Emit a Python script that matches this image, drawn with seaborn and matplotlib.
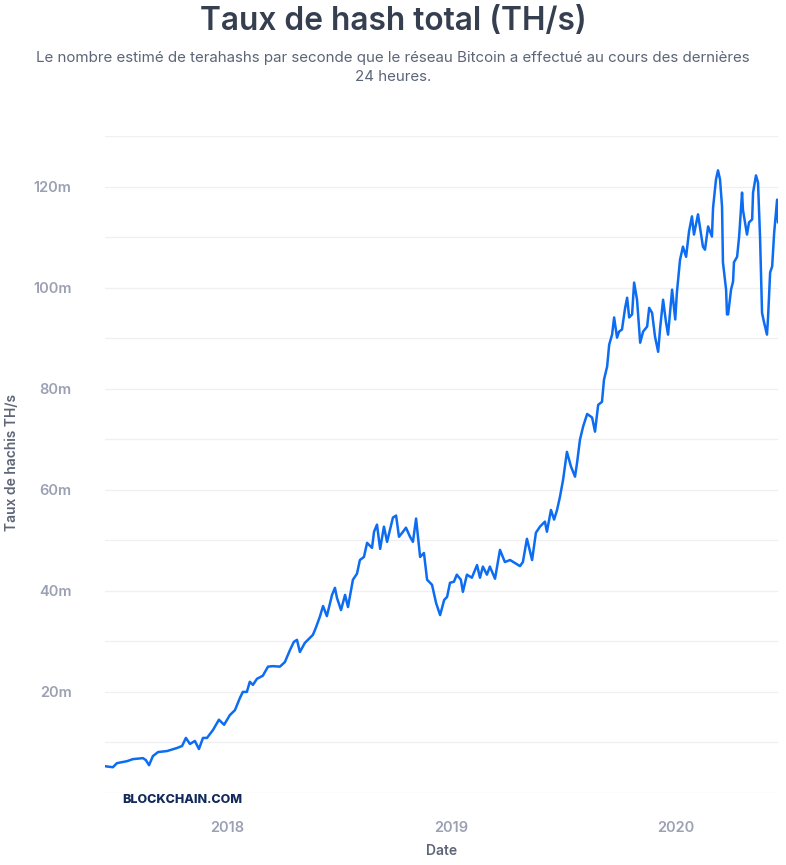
import pandas as pd
import numpy as np
import matplotlib.pyplot as plt
import matplotlib.ticker as mticker
import seaborn as sns

sns.set_theme(style="white")
plt.rcParams['font.family'] = ['Inter', 'DejaVu Sans']

# Dates as decimal years
date_years = [
    2017.457, 2017.492, 2017.510, 2017.555, 2017.581, 2017.626, 2017.639, 2017.653,
    2017.670, 2017.693, 2017.733, 2017.777, 2017.800, 2017.817, 2017.835, 2017.857,
    2017.875, 2017.893, 2017.911, 2017.938, 2017.964, 2017.987, 2018.013, 2018.036,
    2018.058, 2018.071, 2018.089, 2018.102, 2018.116, 2018.134, 2018.160, 2018.183,
    2018.205, 2018.236, 2018.258, 2018.281, 2018.298, 2018.312, 2018.325, 2018.347,
    2018.383, 2018.396, 2018.414, 2018.428, 2018.445, 2018.468, 2018.481, 2018.490,
    2018.508, 2018.526, 2018.539, 2018.561, 2018.579, 2018.592, 2018.610, 2018.624,
    2018.646, 2018.655, 2018.668, 2018.682, 2018.699, 2018.713, 2018.739, 2018.753,
    2018.766, 2018.784, 2018.797, 2018.815, 2018.828, 2018.842, 2018.860, 2018.877,
    2018.891, 2018.913, 2018.931, 2018.949, 2018.967, 2018.980, 2018.993, 2019.011,
    2019.024, 2019.042, 2019.051, 2019.069, 2019.091, 2019.114, 2019.127, 2019.140,
    2019.158, 2019.171, 2019.194, 2019.216, 2019.238, 2019.261, 2019.283, 2019.305,
    2019.318, 2019.336, 2019.359, 2019.376, 2019.394, 2019.416, 2019.425, 2019.443,
    2019.457, 2019.470, 2019.483, 2019.497, 2019.514, 2019.532, 2019.550, 2019.559,
    2019.572, 2019.586, 2019.604, 2019.626, 2019.639, 2019.653, 2019.670, 2019.679,
    2019.693, 2019.702, 2019.715, 2019.724, 2019.737, 2019.746, 2019.759, 2019.773,
    2019.782, 2019.791, 2019.804, 2019.813, 2019.826, 2019.840, 2019.853, 2019.871,
    2019.880, 2019.893, 2019.906, 2019.920, 2019.929, 2019.942, 2019.955, 2019.964,
    2019.982, 2019.996, 2020.004, 2020.018, 2020.031, 2020.045, 2020.058, 2020.071,
    2020.080, 2020.098, 2020.107, 2020.120, 2020.129, 2020.143, 2020.160, 2020.165,
    2020.178, 2020.187, 2020.196, 2020.205, 2020.209, 2020.223, 2020.227, 2020.232,
    2020.245, 2020.254, 2020.258, 2020.272, 2020.281, 2020.294, 2020.298, 2020.316,
    2020.325, 2020.339, 2020.343, 2020.356, 2020.365, 2020.374, 2020.383, 2020.392,
    2020.405, 2020.410, 2020.419, 2020.428, 2020.437, 2020.450, 2020.454,
]

# Hash rate in millions of TH/s
hash_rate_m = [
    5.3, 5.1, 5.9, 6.3, 6.7, 6.9, 6.5, 5.5,
    7.3, 8.1, 8.3, 8.9, 9.3, 10.9, 9.7, 10.3,
    8.7, 10.9, 10.9, 12.5, 14.5, 13.5, 15.4, 16.4,
    18.8, 20.0, 20.0, 22.0, 21.4, 22.6, 23.2, 25.0,
    25.1, 25.0, 25.9, 28.3, 29.9, 30.3, 27.9, 29.7,
    31.3, 32.7, 34.9, 37.0, 35.0, 39.2, 40.6, 38.6,
    36.2, 39.2, 36.8, 42.2, 43.4, 46.1, 46.7, 49.5,
    48.5, 51.7, 53.1, 48.3, 52.7, 49.7, 54.5, 54.9,
    50.7, 51.7, 52.5, 50.7, 49.7, 54.3, 46.7, 47.5,
    42.2, 41.2, 37.6, 35.2, 38.2, 38.8, 41.6, 41.8,
    43.2, 42.2, 39.8, 43.2, 42.6, 45.1, 42.6, 44.8,
    43.2, 44.8, 42.4, 48.1, 45.7, 46.1, 45.5, 44.9,
    45.7, 50.3, 46.1, 51.5, 52.7, 53.7, 51.7, 56.0,
    54.1, 56.0, 58.6, 62.0, 67.5, 64.6, 62.6, 65.3,
    69.9, 72.5, 75.0, 74.3, 71.5, 76.8, 77.4, 81.8,
    84.4, 88.7, 90.7, 94.1, 90.1, 91.3, 91.7, 96.0,
    98.0, 94.1, 94.7, 101.0, 97.6, 89.1, 91.3, 92.3,
    96.0, 95.0, 90.3, 87.3, 92.1, 97.6, 93.1, 90.7,
    99.6, 93.7, 99.0, 105.5, 108.1, 106.1, 111.1, 114.1,
    110.5, 114.5, 111.9, 108.1, 107.5, 112.1, 110.1, 115.8,
    121.4, 123.2, 121.4, 116.0, 105.0, 99.6, 94.7, 94.7,
    99.6, 101.2, 105.0, 106.1, 110.1, 118.8, 115.4, 110.5,
    112.9, 113.5, 118.8, 122.2, 120.8, 110.1, 95.0, 93.1,
    90.7, 94.3, 103.0, 104.2, 110.9, 117.4, 112.9,
]

year_ticks = [2018, 2019, 2020]


def year_to_date(y):
    start = pd.Timestamp(int(y), 1, 1)
    return start + pd.Timedelta(days=(y - int(y)) * 365.25)


df = pd.DataFrame({
    'date': [year_to_date(y) for y in date_years],
    'hash': hash_rate_m,
})

fig = plt.figure(figsize=(7.86, 8.65), dpi=100)
ax = fig.add_axes([105 / 786, 1 - 793 / 865, 673 / 786, 657 / 865])

sns.lineplot(data=df, x='date', y='hash', ax=ax, color='#0c6cf2', linewidth=1.8)

ax.set_xlim(df['date'].iloc[0], df['date'].iloc[-1])
ax.set_ylim(0, 130)

# y grid every 10m, labels every 20m
yt = np.arange(0, 131, 10)
ax.set_yticks(yt)
ax.set_yticklabels([f"{int(v)}m" if v % 20 == 0 and v > 0 else "" for v in yt])
ax.yaxis.grid(True, color='#f0f0f3', linewidth=1)
ax.xaxis.grid(False)

ax.set_xticks([pd.Timestamp(y, 1, 1) for y in year_ticks])
ax.set_xticklabels([str(y) for y in year_ticks])

for s in ax.spines.values():
    s.set_visible(False)
ax.spines['bottom'].set_position(('outward', 9))

ax.tick_params(axis='y', length=0, pad=24, labelsize=10.5, labelcolor='#9ba1b3')
ax.tick_params(axis='x', length=4.5, width=1, color='#c8ccd4', pad=7,
               labelsize=10.5, labelcolor='#9ba1b3')
for lab in ax.get_xticklabels() + ax.get_yticklabels():
    lab.set_fontweight('semibold')

ax.set_xlabel('Date', fontsize=10, fontweight='semibold', color='#5d6577', labelpad=6)
ax.set_ylabel('')
fig.text(12 / 786, 1 - 462 / 865, 'Taux de hachis TH/s', rotation=90,
         ha='center', va='center', fontsize=10, fontweight='semibold', color='#5d6577')

fig.text(0.5, 1 - 22 / 865, 'Taux de hash total (TH/s)', ha='center', va='center',
         fontsize=22.8, fontweight='semibold', color='#353f50')
fig.text(0.5, 1 - 58 / 865,
         'Le nombre estimé de terahashs par seconde que le réseau Bitcoin a effectué au cours des dernières',
         ha='center', va='center', fontsize=10.9, color='#5c6578')
fig.text(0.5, 1 - 77 / 865, '24 heures.', ha='center', va='center',
         fontsize=10.9, color='#5c6578')

fig.text(122 / 786, 1 - 800 / 865, 'BLOCKCHAIN.COM', ha='left', va='center',
         fontsize=9, fontweight='heavy', color='#13295b')

fig.savefig('out.png', dpi=100)
